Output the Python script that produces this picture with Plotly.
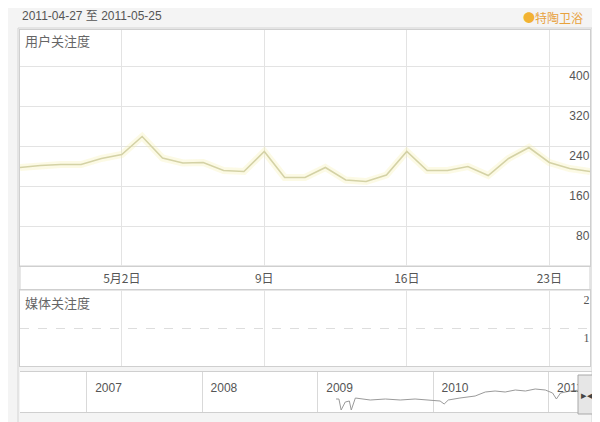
import plotly.graph_objects as go
import pandas as pd

# ---- data ----
start_date = "2011-04-27"
end_date = "2011-05-25"
user_dates = pd.date_range(start_date, end_date, freq="D").strftime("%Y-%m-%d").tolist()
user_values = [197, 201, 203, 203, 215, 223, 259, 216, 206, 207, 191, 189, 229, 177, 177,
               197, 172, 169, 182, 229, 191, 191, 199, 181, 215, 237, 207, 195, 189]

media_dates = []
media_values = []

tick_dates = ["2011-05-02", "2011-05-09", "2011-05-16", "2011-05-23"]
tick_labels = ["5月2日", "9日", "16日", "23日"]
user_ticks = [80, 160, 240, 320, 400]
media_ticks = [1, 2]

overview_dates = ["2009-02-28", "2009-03-09", "2009-03-16", "2009-03-29", "2009-04-11",
                  "2009-04-17", "2009-04-30", "2009-06-16", "2009-08-03", "2009-09-19",
                  "2009-11-05", "2009-12-23", "2010-01-23", "2010-02-05", "2010-02-18",
                  "2010-03-27", "2010-05-14", "2010-06-15", "2010-07-16", "2010-08-17",
                  "2010-09-18", "2010-10-20", "2010-11-20", "2010-12-22", "2011-01-14",
                  "2011-01-26", "2011-02-08", "2011-03-11", "2011-04-13", "2011-05-14"]
overview_values = [156, 156, 24, 120, 132, 24, 168, 144, 156, 144, 156, 144, 132, 96, 144,
                   168, 192, 240, 252, 240, 264, 252, 276, 264, 228, 156, 228, 252, 264, 240]
year_ticks = ["2007-01-01", "2008-01-01", "2009-01-01", "2010-01-01", "2011-01-01"]
year_labels = ["2007", "2008", "2009", "2010", "2011"]

series_name = "特陶卫浴"
period_text = "2011-04-27 至 2011-05-25"

# ---- layout helpers (page has an 8px body margin) ----
OFF = 8
W, H = 600 - OFF, 422 - OFF
def px(x):
    return (x - OFF) / W
def py(y):
    return 1 - (y - OFF) / H

FONT = "Liberation Sans, Arial, Noto Sans CJK SC, sans-serif"
TXT = "#555555"
GRID = "#e3e3e3"
BORDER = "#cfcfcf"

fig = go.Figure()

fig.add_trace(go.Scatter(x=user_dates, y=user_values, mode="lines",
                         line=dict(color="rgba(246,240,170,0.3)", width=7),
                         hoverinfo="skip", showlegend=False, xaxis="x", yaxis="y"))
fig.add_trace(go.Scatter(x=user_dates, y=user_values, mode="lines", name=series_name,
                         line=dict(color="#d4d2a6", width=1.6),
                         showlegend=False, xaxis="x", yaxis="y"))
fig.add_trace(go.Scatter(x=media_dates, y=media_values, mode="lines", name="媒体关注度",
                         line=dict(color="#d4d2a6", width=1.6),
                         showlegend=False, xaxis="x2", yaxis="y2"))
fig.add_trace(go.Scatter(x=overview_dates, y=overview_values, mode="lines",
                         line=dict(color="#9a9a9a", width=1),
                         showlegend=False, xaxis="x3", yaxis="y3"))

x_common = dict(type="date", range=[start_date, end_date], tickvals=tick_dates,
                showgrid=True, gridcolor=GRID, gridwidth=1, zeroline=False,
                showline=True, linecolor=BORDER, mirror=True, ticks="")

fig.update_layout(
    width=W, height=H,
    margin=dict(l=0, r=0, t=0, b=0),
    paper_bgcolor="#f4f4f4",
    plot_bgcolor="#ffffff",
    font=dict(family=FONT, size=12, color=TXT),
    showlegend=False,
    xaxis=dict(**x_common, domain=[px(20), px(590)], anchor="y",
               ticktext=tick_labels, showticklabels=True, ticklabelstandoff=2,
               tickfont=dict(family="Noto Sans CJK SC, Liberation Sans", size=12, color=TXT)),
    yaxis=dict(domain=[py(266), py(30)], range=[0, 472], anchor="x",
               tickvals=user_ticks, side="right", ticklabelposition="inside",
               ticklabelshift=10, showgrid=True, gridcolor=GRID, zeroline=False,
               showline=True, linecolor=BORDER, mirror=True, ticks="",
               tickfont=dict(size=12, color=TXT)),
    xaxis2=dict(**x_common, domain=[px(20), px(590)], anchor="y2", matches="x",
                showticklabels=False),
    yaxis2=dict(domain=[py(366), py(290)], range=[0, 2], anchor="x2",
                tickvals=media_ticks, side="right", ticklabelposition="inside",
                ticklabelshift=10, showgrid=True, gridcolor="#dddddd", griddash="dash",
                zeroline=False, showline=True, linecolor=BORDER, mirror=True, ticks="",
                tickfont=dict(family="Liberation Serif, serif", size=12, color=TXT)),
    xaxis3=dict(type="date", range=["2006-06-04", "2011-05-25"], domain=[px(20), px(594)],
                anchor="y3", side="top", tickvals=year_ticks, ticktext=year_labels,
                ticklabelposition="inside right", ticklabelshift=8, ticklabelstandoff=8,
                showgrid=True, gridcolor="#d9d9d9", zeroline=False,
                showline=True, linecolor=BORDER, mirror=True, ticks="",
                tickfont=dict(size=12, color=TXT)),
    yaxis3=dict(domain=[py(412), py(372)], range=[0, 480], anchor="x3",
                showticklabels=False, showgrid=False, zeroline=False,
                showline=False, ticks=""),
)

shapes = [
    dict(type="rect", xref="paper", yref="paper", x0=px(20), x1=px(590), y0=py(290), y1=py(266),
         fillcolor="#ffffff", line=dict(color=BORDER, width=1), layer="below"),
    dict(type="line", xref="paper", yref="paper", x0=px(592), x1=px(592), y0=0, y1=py(28),
         line=dict(color="#d4d4d4", width=1)),
    dict(type="line", xref="paper", yref="paper", x0=px(18), x1=px(592), y0=py(28), y1=py(28),
         line=dict(color="#d4d4d4", width=1)),
    dict(type="line", xref="paper", yref="paper", x0=px(18), x1=px(18), y0=0, y1=py(28),
         line=dict(color="#d4d4d4", width=1)),
    dict(type="rect", xref="paper", yref="paper", x0=px(578), x1=px(595), y0=py(414), y1=py(375),
         fillcolor="#e6e6e6", line=dict(color="#a8a8a8", width=1), layer="above"),
]
fig.update_layout(shapes=shapes)

annotations = [
    dict(text=period_text, xref="paper", yref="paper", x=px(21), y=1, xanchor="left",
         yanchor="top", showarrow=False, borderpad=0,
         font=dict(family="Liberation Sans, Noto Sans CJK SC", size=12, color=TXT)),
    dict(text='<span style="color:#f2b233">●</span>' + series_name, xref="paper", yref="paper",
         x=px(584), y=1, xanchor="right", yanchor="top", showarrow=False, borderpad=0,
         font=dict(family="Noto Sans CJK SC", size=12, color="#e8a23c")),
    dict(text="用户关注度", xref="paper", yref="paper", x=px(23), y=py(40), xanchor="left",
         yanchor="middle", showarrow=False,
         font=dict(family="Noto Sans CJK SC", size=13, color="#666666")),
    dict(text="媒体关注度", xref="paper", yref="paper", x=px(23), y=py(302), xanchor="left",
         yanchor="middle", showarrow=False,
         font=dict(family="Noto Sans CJK SC", size=13, color="#666666")),
    dict(text="▸◂", xref="paper", yref="paper", x=px(586.5), y=py(395), xanchor="center",
         yanchor="middle", showarrow=False, font=dict(size=11, color="#444444")),
]
fig.update_layout(annotations=annotations)

fig.write_html("out.html")
